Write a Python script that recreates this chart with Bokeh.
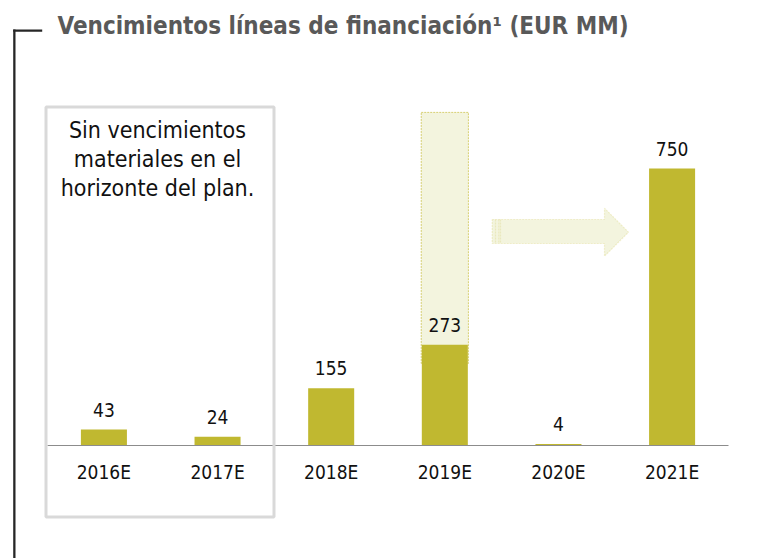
from bokeh.plotting import figure
from bokeh.models import (ColumnDataSource, FactorRange, Range1d, BoxAnnotation,
                          PolyAnnotation, Label)
from bokeh.embed import file_html
from bokeh.resources import INLINE
from bokeh.core.properties import value

# ---- data ----
years = ["2016E", "2017E", "2018E", "2019E", "2020E", "2021E"]
maturities = [43, 24, 155, 273, 4, 750]
value_labels = ["43", "24", "155", "273", "4", "750"]
ghost_year = ["2019E"]
ghost_bottom = [222]
ghost_top = [902]
title_text = "Vencimientos líneas de financiación¹ (EUR MM)"
note_lines = ["Sin vencimientos", "materiales en el", "horizonte del plan."]

FONT = "DejaVu Sans Condensed"
BAR = "#c0b830"
GHOST_FILL = "#f3f4de"
GHOST_LINE = "#d6cf72"

W, H = 775, 558


def sx(px):
    return px


def sy(py):
    return H - py


p = figure(width=W, height=H, output_backend="svg", toolbar_location=None,
           x_range=FactorRange(factors=years, range_padding=0.41,
                               range_padding_units="absolute"),
           y_range=Range1d(-306, 1205),
           min_border_left=0, min_border_right=0, min_border_top=0,
           min_border_bottom=0)
p.outline_line_color = None
p.grid.grid_line_color = None
p.yaxis.visible = False
p.background_fill_color = "white"
p.border_fill_color = "white"

src = ColumnDataSource(dict(x=years, top=maturities, lab=value_labels))

# ghost bar (2019E)
p.vbar(x=ghost_year, bottom=ghost_bottom, top=ghost_top, width=0.415,
       fill_color=GHOST_FILL, line_color=GHOST_LINE, line_width=1,
       line_dash="2 1")

p.vbar(x="x", top="top", width=0.405, source=src, fill_color=BAR,
       line_color=None)

p.text(x="x", y="top", text="lab", source=src, text_align="center",
       text_baseline="alphabetic", y_offset=-20,
       text_font=value(FONT), text_font_size="19px", text_color="#111111")

ax = p.xaxis[0]
ax.fixed_location = 0
ax.bounds = (0, 6)
ax.axis_line_color = "#8c8c8c"
ax.axis_line_width = 1
ax.major_tick_line_color = None
ax.minor_tick_line_color = None
ax.major_label_text_font = FONT
ax.major_label_text_font_size = "19px"
ax.major_label_text_color = "#111111"
ax.major_label_standoff = 10

# arrow
arrow_x = [491.7, 604, 604, 628, 604, 604, 491.7]
arrow_y = [219, 219, 207.7, 231.7, 255.7, 243, 243]
p.add_layout(PolyAnnotation(xs=[sx(v) for v in arrow_x],
                            ys=[sy(v) for v in arrow_y],
                            xs_units="screen", ys_units="screen",
                            fill_color=GHOST_FILL, fill_alpha=1,
                            line_color=GHOST_LINE, line_width=1.2,
                            line_dash="2 1"))
for px in [495, 498.3, 500]:
    p.add_layout(PolyAnnotation(xs=[sx(px), sx(px)], ys=[sy(219), sy(243)],
                                xs_units="screen", ys_units="screen",
                                fill_alpha=0, line_color=GHOST_LINE,
                                line_width=1.2, line_dash="2 1"))

# grey note box
p.add_layout(BoxAnnotation(left=sx(45.5), right=sx(273.5), top=sy(106.5),
                           bottom=sy(516.5),
                           left_units="screen", right_units="screen",
                           top_units="screen", bottom_units="screen",
                           fill_alpha=0, line_color="#d9d9d9", line_width=3,
                           line_alpha=1))
for i, t in enumerate(note_lines):
    p.add_layout(Label(x=sx(157), y=sy(137 + 29 * i) + 8,
                       x_units="screen", y_units="screen",
                       text=t, text_align="center", text_baseline="alphabetic",
                       text_font=FONT, text_font_size="23px",
                       text_color="#111111"))

# bracket
p.add_layout(BoxAnnotation(left=sx(12.7), right=sx(41.7), top=sy(29),
                           bottom=sy(31.3),
                           left_units="screen", right_units="screen",
                           top_units="screen", bottom_units="screen",
                           fill_color="#262626", fill_alpha=1, line_color=None))
p.add_layout(BoxAnnotation(left=sx(12.7), right=sx(15), top=sy(29),
                           bottom=sy(H),
                           left_units="screen", right_units="screen",
                           top_units="screen", bottom_units="screen",
                           fill_color="#262626", fill_alpha=1, line_color=None))

# title
p.add_layout(Label(x=sx(57), y=sy(33.5) + 8, x_units="screen", y_units="screen",
                   text=title_text, text_align="left", text_baseline="alphabetic",
                   text_font=FONT, text_font_style="bold", text_font_size="24px",
                   text_color="#595959"))

open("out.html", "w").write(file_html(p, INLINE))
